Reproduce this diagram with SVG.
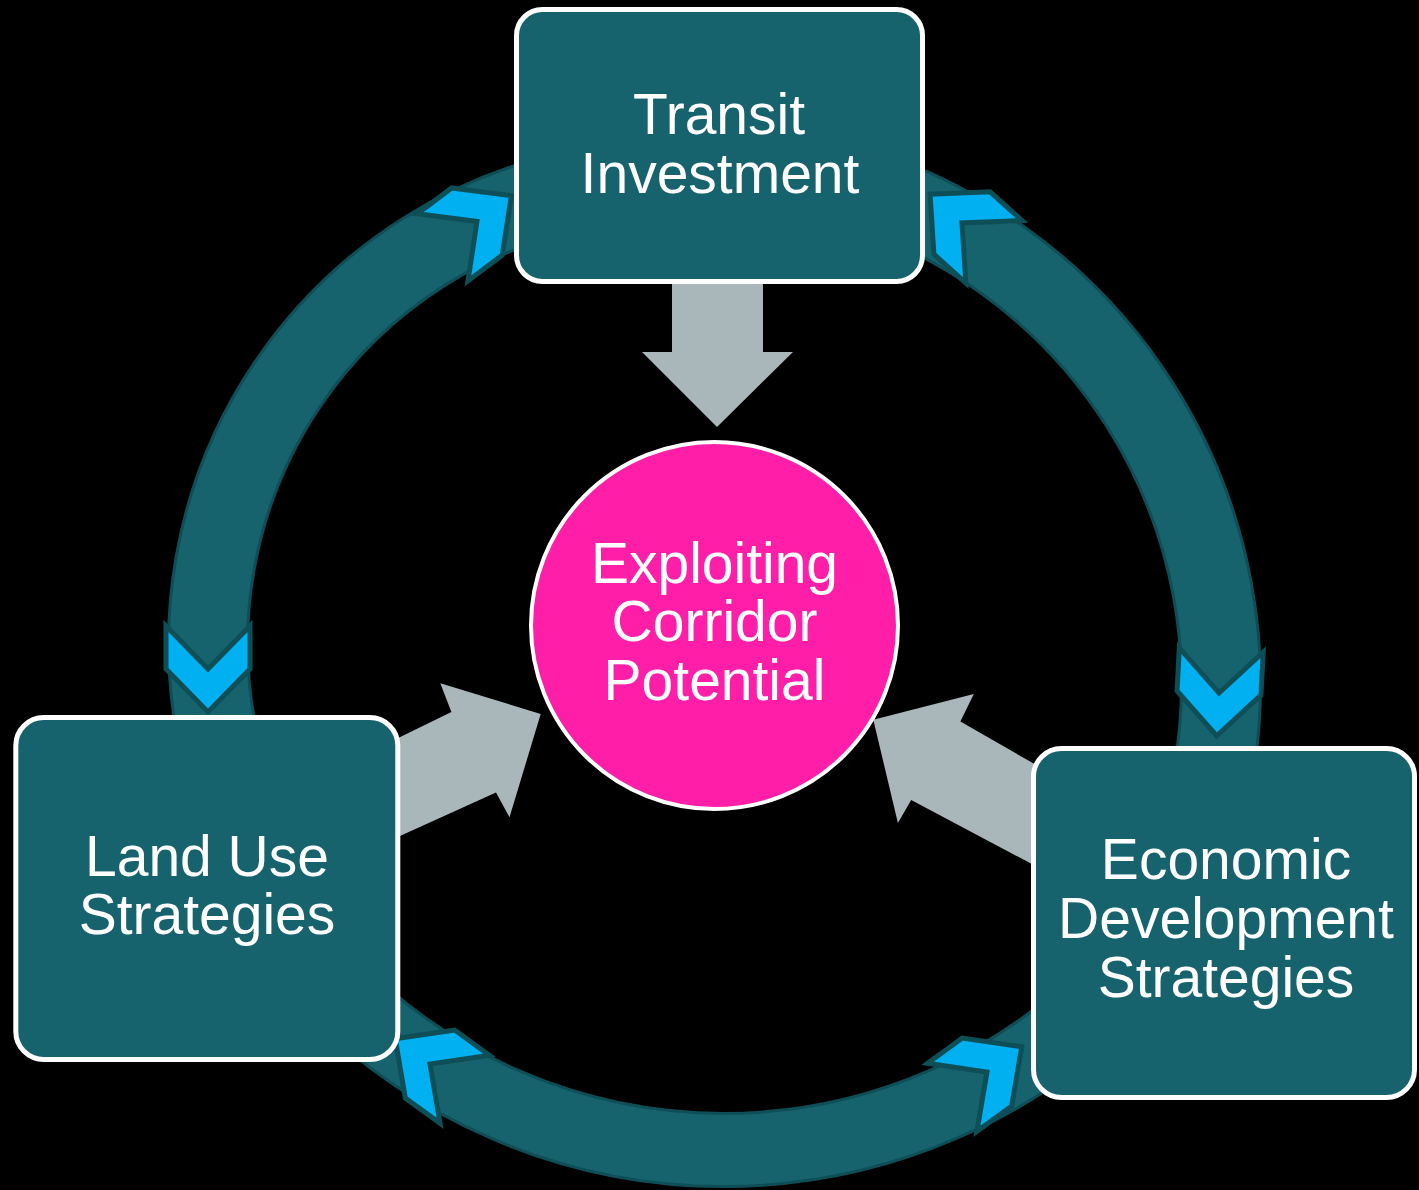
<svg xmlns="http://www.w3.org/2000/svg" width="1419" height="1190" viewBox="0 0 1419 1190">
<defs>
<style>
.box{fill:#17636d;stroke:#ffffff;stroke-width:5}
.lbl{font-family:"Liberation Sans",Arial,Helvetica,sans-serif;font-size:57px;fill:#ffffff;text-anchor:middle}
.arc-o{fill:none;stroke:#0e4f57;stroke-width:82}
.arc-i{fill:none;stroke:#17636d;stroke-width:76}
.arcb-o{fill:none;stroke:#0e4f57;stroke-width:76}
.arcb-i{fill:none;stroke:#17636d;stroke-width:70}
.chev{fill:#00b0f0;stroke:#0e4f57;stroke-width:5;stroke-linejoin:miter}
.gray{fill:#a9b7bb}
.hub{fill:#ff1ea8;stroke:#ffffff;stroke-width:4}
</style>
<polygon id="chev" class="chev" points="-42,-43 0,0 42,-43 42,0 0,43 -42,0"/>
</defs>
<rect x="0" y="0" width="1419" height="1190" fill="#000000"/>
<g id="connectors">
  <g id="ring">
    <path class="arc-o" d="M 591.4 187.0 A 464 464 0 0 0 218.2 740.5"/>
    <path class="arc-i" d="M 591.4 187.0 A 464 464 0 0 0 218.2 740.5"/>
    <path class="arc-o" d="M 834.8 180.8 A 521 521 0 0 1 1213.1 774.5"/>
    <path class="arc-i" d="M 834.8 180.8 A 521 521 0 0 1 1213.1 774.5"/>
    <path class="arcb-o" d="M 335.1 988.9 A 550 550 0 0 0 1112.9 988.9"/>
    <path class="arcb-i" d="M 335.1 988.9 A 550 550 0 0 0 1112.9 988.9"/>
  </g>
  <g id="chevrons">
    <use href="#chev" transform="translate(477,221.5) rotate(-127)"/>
    <use href="#chev" transform="translate(962,223) rotate(132)"/>
    <use href="#chev" transform="translate(208,669) rotate(0)"/>
    <use href="#chev" transform="translate(1219,693) rotate(3)"/>
    <use href="#chev" transform="translate(430,1064) rotate(126)"/>
    <use href="#chev" transform="translate(987,1072) rotate(-126)"/>
  </g>
  <g id="block-arrows">
    <polygon class="gray" points="672,270 763,270 763,352 793,352 717,427 642,352 672,352"/>
    <polygon class="gray" points="390,742 451.4,712 440.3,683.3 540.7,714 509.5,817.3 496,792.4 390,840.6"/>
    <polygon class="gray" points="1045,770 960.4,721.6 973.8,694 873.3,719.7 897.9,823 911.2,800 1045,871"/>
  </g>
</g>
<g id="node-transit">
  <rect class="box" x="516.5" y="9.5" width="406" height="272" rx="26"/>
  <text class="lbl" x="719" y="134">Transit</text>
  <text class="lbl" x="720" y="193">Investment</text>
</g>
<g id="node-landuse">
  <rect class="box" x="15.8" y="717.5" width="382" height="342" rx="28"/>
  <text class="lbl" x="207" y="876">Land Use</text>
  <text class="lbl" x="207" y="934">Strategies</text>
</g>
<g id="node-economic">
  <rect class="box" x="1033.5" y="748.5" width="381" height="349" rx="28"/>
  <text class="lbl" x="1226" y="879">Economic</text>
  <text class="lbl" x="1226" y="938">Development</text>
  <text class="lbl" x="1226" y="997">Strategies</text>
</g>
<g id="node-center">
  <circle class="hub" cx="714.5" cy="625.5" r="183.5"/>
  <text class="lbl" x="714.5" y="583">Exploiting</text>
  <text class="lbl" x="714.5" y="641">Corridor</text>
  <text class="lbl" x="714.5" y="700">Potential</text>
</g>
</svg>
